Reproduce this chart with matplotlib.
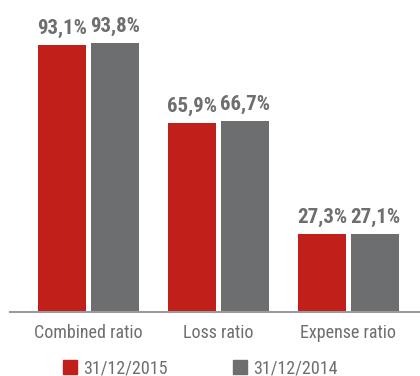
import matplotlib
matplotlib.use("Agg")
import matplotlib.pyplot as plt
from matplotlib.patches import Patch
import numpy as np

categories = ["Combined ratio", "Loss ratio", "Expense ratio"]
series_labels = ["31/12/2015", "31/12/2014"]
values_2015 = [93.1, 65.9, 27.3]
values_2014 = [93.8, 66.7, 27.1]

RED = "#c01f1a"
GRAY = "#6d6e70"
AXIS = "#9a9a9a"
FONT = ["Roboto Condensed", "Archivo Narrow", "DejaVu Sans"]

W, H = 420, 376
fig = plt.figure(figsize=(W / 100, H / 100), dpi=100)
ax = fig.add_axes([10 / W, (H - 312) / H, (W - 10) / W, 312 / H])

x = np.arange(len(categories))
bw = 48 / 130
off = 26.5 / 130
b1 = ax.bar(x - off, values_2015, bw, color=RED, zorder=2)
b2 = ax.bar(x + off, values_2014, bw, color=GRAY, zorder=2)

def fmt(v):
    return f"{v:.1f}".replace(".", ",") + "%"

for bars, vals in ((b1, values_2015), (b2, values_2014)):
    for rect, v in zip(bars, vals):
        ax.annotate(fmt(v), (rect.get_x() + rect.get_width() / 2, v),
                    xytext=(0, 5), textcoords="offset points",
                    ha="center", va="bottom", fontsize=15, fontweight="bold",
                    color=GRAY, family=FONT)

ax.set_xlim((10 - 88.5) / 130, (420 - 88.5) / 130)
ax.set_ylim(0, 108.8)
for s in ("top", "right", "left"):
    ax.spines[s].set_visible(False)
ax.spines["bottom"].set_color(AXIS)
ax.spines["bottom"].set_linewidth(1.5)
ax.set_yticks([])
ax.set_xticks(x)
ax.set_xticklabels(categories, fontsize=13, color=GRAY, family=FONT)
ax.tick_params(axis="x", length=0, pad=8.5)

# one legend entry per series, each anchored at its own x position
for color, label, xpos in ((RED, series_labels[0], 63), (GRAY, series_labels[1], 233)):
    leg = fig.legend([Patch(color=color)], [label], loc="lower left",
                     bbox_to_anchor=(xpos / W, -0.004), frameon=False,
                     borderpad=0, borderaxespad=0,
                     prop={"family": FONT, "size": 13},
                     labelcolor=GRAY, handlelength=0.78, handleheight=0.78,
                     handletextpad=0.35)
    for t in leg.get_texts():
        t.set_family(FONT)

fig.savefig("out.png", dpi=100)
